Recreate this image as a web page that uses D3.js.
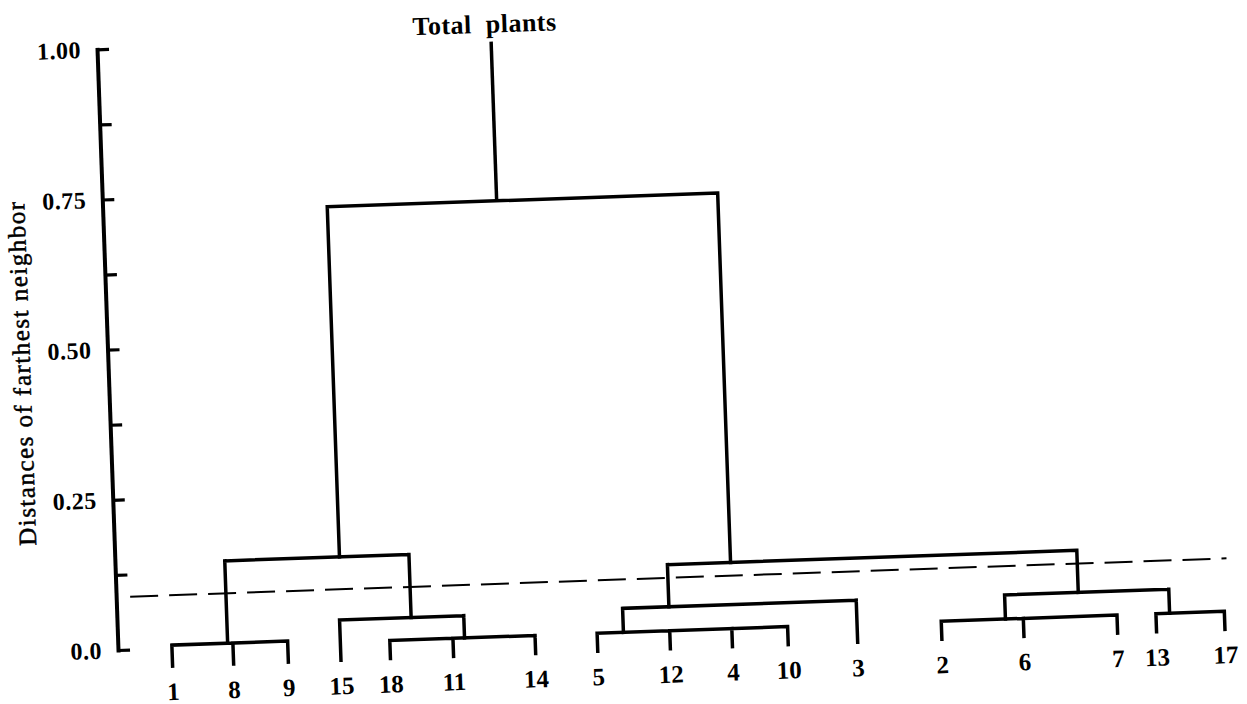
<!DOCTYPE html>
<html>
<head>
<meta charset="utf-8">
<script src="https://cdn.jsdelivr.net/npm/d3@7"></script>
<style>
  body { margin: 0; background: #fff; }
  svg  { display: block; }
  text { font-family: 'Liberation Serif', 'Times New Roman', serif; fill: #000; }
</style>
</head>
<body>
<svg id="chart" width="1247" height="704"></svg>
<script>
// ─── Data ─────────────────────────────────────────────────────────────────────

// leaves in drawing order, position along the base line (0 = first leaf, 100 = last)
const leafNames = ['1', '8', '9', '15', '18', '11', '14', '5', '12', '4', '10', '3', '2', '6', '7', '13', '17'];
const leafPos   = [0, 5.8, 11.0, 16.0, 20.7, 26.7, 34.5, 40.4, 47.3, 53.2, 58.5, 65.1, 73.1, 80.9, 89.8, 93.5, 100];

// clusters: members, joining distance, where the stem leaves the bar
const clusterIds     = ['A', 'B', 'C', 'D', 'E', 'F', 'G', 'H', 'I', 'J', 'root'];
const clusterMembers = [
  ['1', '8', '9'],
  ['18', '11', '14'],
  ['15', 'B'],
  ['A', 'C'],
  ['5', '12', '4', '10'],
  ['E', '3'],
  ['2', '6', '7'],
  ['13', '17'],
  ['G', 'H'],
  ['F', 'I'],
  ['D', 'J'],
];
const clusterHeights = [0.005, 0.0, 0.037, 0.142, 0.0, 0.04, 0.0, 0.0, 0.04, 0.11, 0.725];
const clusterStems   = [5.3, 27.8, 22.8, 16.2, 42.9, 47.3, 79.2, 94.8, 86.2, 53.3, 32.3];

const rootTop  = 0.99;   // top of the "Total plants" stem
const leafTip  = -0.03;  // leaves hang a little below 0
const cutLevel = 0.088;  // dashed cut line

const tickValues = [0, 0.125, 0.25, 0.375, 0.5, 0.625, 0.75, 0.875, 1];
const tickLabels = ['0.0', '', '0.25', '', '0.50', '', '0.75', '', '1.00'];

const titleText  = 'Total  plants';
const yAxisTitle = 'Distances of farthest neighbor';

// ─── Layout ───────────────────────────────────────────────────────────────────

const axisX = 118;
const tilt  = -2.0;   // the printed figure sits slightly askew

const x = d3.scaleLinear().domain([0, 100]).range([172, 1225]);
const y = d3.scaleLinear().domain([0, 1]).range([650, 49]);

const svg = d3.select('#chart');
const g = svg.append('g')
  .attr('transform', `rotate(${tilt}, ${axisX}, ${y(0)})`);

// ─── Axis ─────────────────────────────────────────────────────────────────────

const yAxis = d3.axisLeft(y)
  .tickValues(tickValues)
  .tickFormat((_d, i) => tickLabels[i])
  .tickSize(-12)
  .tickSizeOuter(0)
  .tickPadding(16);

const axisG = g.append('g')
  .attr('transform', `translate(${axisX},0)`)
  .call(yAxis);

axisG.select('.domain').attr('stroke-width', 4).attr('stroke-linecap', 'square');
axisG.selectAll('.tick line').attr('stroke-width', 3.2);
axisG.selectAll('.tick text')
  .attr('font-family', "'Liberation Serif', serif")
  .attr('font-size', 24)
  .attr('font-weight', 'bold')
  .attr('letter-spacing', 0.5);
axisG.attr('font-family', null).attr('font-size', null);

g.append('text')
  .attr('transform', 'translate(40, 370) rotate(-90)')
  .attr('text-anchor', 'middle')
  .attr('font-size', 25)
  .attr('letter-spacing', 1.5)
  .attr('stroke', '#000')
  .attr('stroke-width', 0.5)
  .text(yAxisTitle);

// ─── Dendrogram ───────────────────────────────────────────────────────────────

const nodes = new Map();
leafNames.forEach((n, i) => nodes.set(n, { pos: leafPos[i], h: leafTip }));
clusterIds.forEach((id, i) => nodes.set(id, {
  pos: clusterStems[i], h: clusterHeights[i], members: clusterMembers[i],
}));

const linkPath = id => {
  const node = nodes.get(id);
  const kids = node.members.map(m => nodes.get(m));
  const yp = y(node.h);
  const xs = kids.map(k => x(k.pos));
  let d = `M${d3.min(xs)},${yp}H${d3.max(xs)}`;
  kids.forEach(k => { d += `M${x(k.pos)},${y(k.h)}V${yp}`; });
  return d;
};

g.selectAll('path.link')
  .data(clusterIds)
  .join('path')
  .attr('class', 'link')
  .attr('d', linkPath)
  .attr('fill', 'none')
  .attr('stroke', '#000')
  .attr('stroke-width', 3.5)
  .attr('stroke-linecap', 'square');

const root = nodes.get('root');
g.append('line')
  .attr('x1', x(root.pos)).attr('x2', x(root.pos))
  .attr('y1', y(root.h)).attr('y2', y(rootTop))
  .attr('stroke', '#000')
  .attr('stroke-width', 3.5);

g.append('text')
  .attr('x', x(root.pos) - 6)
  .attr('y', y(rootTop) - 9)
  .attr('text-anchor', 'middle')
  .attr('font-size', 26)
  .attr('font-weight', 'bold')
  .attr('letter-spacing', 0.5)
  .style('white-space', 'pre')
  .text(titleText);

// cut line
g.append('line')
  .attr('x1', axisX + 14).attr('x2', x(100) + 4)
  .attr('y1', y(cutLevel)).attr('y2', y(cutLevel))
  .attr('stroke', '#000')
  .attr('stroke-width', 2)
  .attr('stroke-dasharray', '28 11');

// leaf labels
g.selectAll('text.leaf')
  .data(leafNames)
  .join('text')
  .attr('class', 'leaf')
  .attr('x', (_d, i) => x(leafPos[i]))
  .attr('y', y(leafTip) + 34)
  .attr('text-anchor', 'middle')
  .attr('font-size', 25)
  .attr('font-weight', 'bold')
  .text(d => d);
</script>
</body>
</html>
